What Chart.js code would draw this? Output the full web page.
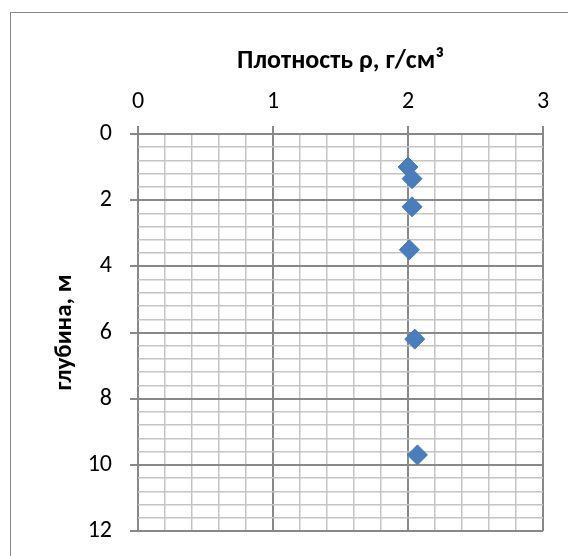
<!DOCTYPE html>
<html lang="ru">
<head>
    <meta charset="UTF-8">
    <title>Плотность</title>
    <script src="https://cdn.jsdelivr.net/npm/chart.js"></script>
    <style>
        html, body { margin: 0; padding: 0; background: #fff; overflow: hidden; }
        #moldura {
            position: absolute; left: 10px; top: 12px;
            width: 600px; height: 600px;
            border: 1px solid #868686; box-sizing: border-box;
        }
        #caixa { position: absolute; left: 0; top: 0; width: 568px; height: 556px; }
    </style>
</head>
<body>
    <div id="moldura"></div>
    <div id="caixa"><canvas id="graficoCanvas" width="568" height="556"></canvas></div>
</body>
</html>
<script>
    // dados
    const densidade = [2.00, 2.03, 2.03, 2.01, 2.05, 2.07];
    const profundidade = [1.0, 1.35, 2.2, 3.5, 6.2, 9.7];

    // marcas principais dos eixos
    const ticksX = [0, 1, 2, 3];
    const ticksY = [0, 2, 4, 6, 8, 10, 12];
    const divX = 5;   // linhas secundárias entre marcas principais
    const divY = 5;

    const pontos = densidade.map((d, i) => ({ x: d, y: profundidade[i] }));

    function montarTicks(principais, div) {
        let lista = [];
        for (let i = 0; i < principais.length; i++) {
            lista.push({ value: principais[i], major: true });
            if (i < principais.length - 1) {
                let passo = (principais[i + 1] - principais[i]) / div;
                for (let k = 1; k < div; k++) {
                    lista.push({ value: principais[i] + passo * k, major: false });
                }
            }
        }
        return lista;
    }

    const fonte = "Carlito, Lato, 'Liberation Sans', sans-serif";
    const corPrincipal = '#888888';
    const corSecundaria = '#c4c4c4';

    function corGrade(ctx) {
        return ctx.tick && ctx.tick.major ? corPrincipal : corSecundaria;
    }
    function corMarca(ctx) {
        return ctx.tick && ctx.tick.major ? corPrincipal : 'rgba(0,0,0,0)';
    }
    function larguraGrade(ctx) {
        return ctx.tick && ctx.tick.major ? 2 : 1.5;
    }

    const config = {
        type: 'scatter',
        data: {
            datasets: [{
                data: pontos,
                pointStyle: 'rectRot',
                pointRadius: 10,
                pointHoverRadius: 10,
                backgroundColor: '#4a7ebb',
                borderColor: '#4677b4',
                borderWidth: 1
            }]
        },
        options: {
            responsive: false,
            animation: false,
            layout: { padding: { left: 20, right: 25, top: 20, bottom: 25 } },
            plugins: { legend: { display: false }, tooltip: { enabled: false } },
            scales: {
                x: {
                    type: 'linear',
                    position: 'top',
                    min: 0, max: 3,
                    afterBuildTicks: (s) => { s.ticks = montarTicks(ticksX, divX); },
                    afterFit: (s) => { s.height = 114; },
                    border: { display: false },
                    grid: { color: corGrade, tickColor: corMarca, tickLength: 8, lineWidth: larguraGrade },
                    ticks: {
                        autoSkip: false,
                        maxRotation: 0,
                        padding: 10,
                        color: '#000',
                        font: { family: fonte, size: 24 },
                        callback: (v, i, t) => t[i].major ? String(Math.round(v)) : ''
                    },
                    title: {
                        display: true,
                        text: 'Плотность ρ, г/см³',
                        color: '#000',
                        font: { family: fonte, size: 26, weight: 'bold' },
                        padding: { top: 26, bottom: 0 }
                    }
                },
                y: {
                    type: 'linear',
                    reverse: true,
                    min: 0, max: 12,
                    afterBuildTicks: (s) => { s.ticks = montarTicks(ticksY, divY); },
                    afterFit: (s) => { s.width = 118; s.paddingTop = 0; s.paddingBottom = 0; },
                    border: { display: false },
                    grid: { color: corGrade, tickColor: corMarca, tickLength: 8, lineWidth: larguraGrade },
                    ticks: {
                        autoSkip: false,
                        padding: 18,
                        color: '#000',
                        font: { family: fonte, size: 24 },
                        callback: (v, i, t) => t[i].major ? String(Math.round(v)) : ''
                    },
                    title: {
                        display: true,
                        text: 'глубина, м',
                        color: '#000',
                        font: { family: fonte, size: 25, weight: 'bold' },
                        padding: { top: 30, bottom: 0 }
                    }
                }
            }
        }
    };

    let grafico = new Chart(document.getElementById('graficoCanvas'), config);
</script>
